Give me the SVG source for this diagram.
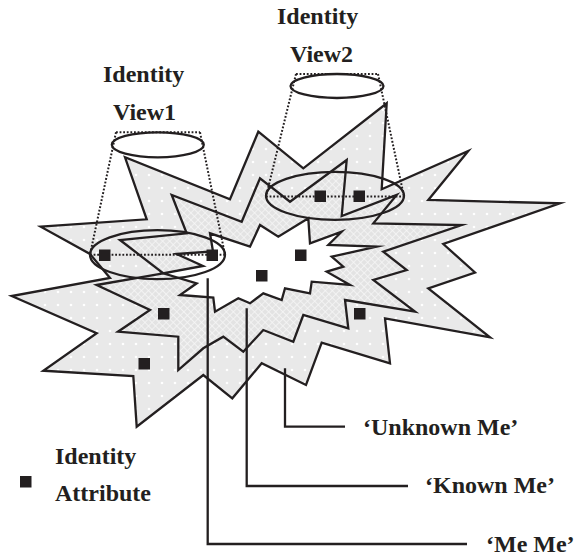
<svg xmlns="http://www.w3.org/2000/svg" width="576" height="556" viewBox="0 0 576 556">
<defs>
<pattern id="dots" width="13" height="13" patternUnits="userSpaceOnUse"><rect width="13" height="13" fill="#e9e9e9"/><circle cx="6" cy="6" r="1.3" fill="#fff"/></pattern>
<pattern id="hatch" width="5" height="5" patternUnits="userSpaceOnUse" patternTransform="rotate(45)"><rect width="5" height="5" fill="#e3e3e3"/><path d="M0 0H5M0 0V5" stroke="#f7f7f7" stroke-width="1.4"/></pattern>
<style>
.edge{stroke:#231f20;stroke-width:2.3;stroke-linejoin:miter;stroke-miterlimit:20}
.ell{fill:none;stroke:#231f20;stroke-width:2.3}
.dot{fill:none;stroke:#231f20;stroke-width:2;stroke-dasharray:1.8 1.8}
.lead{fill:none;stroke:#231f20;stroke-width:2.3}
.sq{fill:#231f20}
.t{font-family:"Liberation Serif","Times New Roman",serif;font-weight:bold;font-size:24px;fill:#231f20}
</style>
</defs>
<rect width="576" height="556" fill="#fff"/>
<g id="unknown-me">
<polygon class="edge" fill="url(#dots)" points="40.7,226.7 146.7,219.3 125,157.3 230,199.3 258.3,131.7 303.3,168.3 386.7,103.3 381.7,189.3 468.3,151 428.3,200 560,203.3 443.3,244 475,272.5 428.3,288.3 490,337.3 385,318.3 390,363.3 321.7,342.7 306,385 261.7,363.3 232.3,398.3 203.3,375 136.7,426.7 133.3,376 43.3,370.7 96.7,333.3 11.7,296 110,278 90,254"/>
</g>
<g id="known-me">
<polygon class="edge" fill="url(#hatch)" points="96.7,285 163.3,273.3 120,240 186.7,233.3 171.7,195 241.7,221.7 260,178.3 290,201.7 346.7,160 341.7,216 396.7,195 373.3,223.3 461.7,225 383.3,251.7 406.7,270 373.3,280 415,311.7 345,300 348.3,328.3 303.3,315 293.3,341.7 263.3,330 243.3,351.7 223.3,336.7 203.3,348.3 178.3,370 178.3,336.7 118,331.7 150,310"/>
</g>
<g id="me-me">
<polygon class="edge" fill="#fff" points="176.7,254 213,251.5 210,233.3 250,246.7 260,225 278.3,236.7 308.3,218.3 310,243.3 341.7,231.7 328.3,245 376.7,246.7 331.7,256.7 343.3,266.7 326.7,271.7 350,285 311.7,281.7 310,293.3 285,288.3 281.7,300 263.3,293.3 250,303.3 238.3,298.3 215,311.7 213.3,297.5 180,295 196.7,283.3 163.3,273.3 203,266"/>
</g>
<g id="view1">
<ellipse class="ell" fill="#fff" cx="157.8" cy="144.8" rx="46" ry="12.5"/>
<path class="dot" d="M116,132.3H200M116,132.3L90,254.7M200,132.3L225,254.7M90,254.7H225"/>
<ellipse class="ell" cx="157.5" cy="254.7" rx="67.5" ry="24.5"/>
<text class="t" x="103" y="82">Identity</text>
<text class="t" x="113" y="120">View1</text>
</g>
<g id="view2">
<ellipse class="ell" fill="#fff" cx="337" cy="86" rx="46.5" ry="12"/>
<path class="dot" d="M296,74H378M296,74L266,196.5M378,74L404,196.5M266,196.5H404"/>
<ellipse class="ell" cx="335" cy="195.8" rx="69" ry="24"/>
<text class="t" x="277" y="24">Identity</text>
<text class="t" x="290" y="62">View2</text>
</g>
<g id="attributes">
<rect class="sq" x="99" y="249.5" width="11.5" height="11.5"/>
<rect class="sq" x="206.5" y="249.5" width="11.5" height="11.5"/>
<rect class="sq" x="314.5" y="190.5" width="11.5" height="11.5"/>
<rect class="sq" x="353.5" y="190.5" width="11.5" height="11.5"/>
<rect class="sq" x="295" y="249.5" width="11.5" height="11.5"/>
<rect class="sq" x="256" y="270" width="11.5" height="11.5"/>
<rect class="sq" x="158" y="308" width="11.5" height="11.5"/>
<rect class="sq" x="138.5" y="358" width="11.5" height="11.5"/>
<rect class="sq" x="354" y="308" width="11.5" height="11.5"/>
</g>
<g id="connectors">
<path class="lead" d="M285,368.3V426.7H345"/>
<path class="lead" d="M246.7,308.3V486H408"/>
<path class="lead" d="M207.7,278.3V544H467"/>
</g>
<g id="labels">
<text class="t" x="363" y="435">‘Unknown Me’</text>
<text class="t" x="425" y="493">‘Known Me’</text>
<text class="t" x="486" y="552">‘Me Me’</text>
</g>
<g id="legend">
<rect class="sq" x="20" y="476" width="11.5" height="11.5"/>
<text class="t" x="55" y="464">Identity</text>
<text class="t" x="55" y="501">Attribute</text>
</g>
</svg>
